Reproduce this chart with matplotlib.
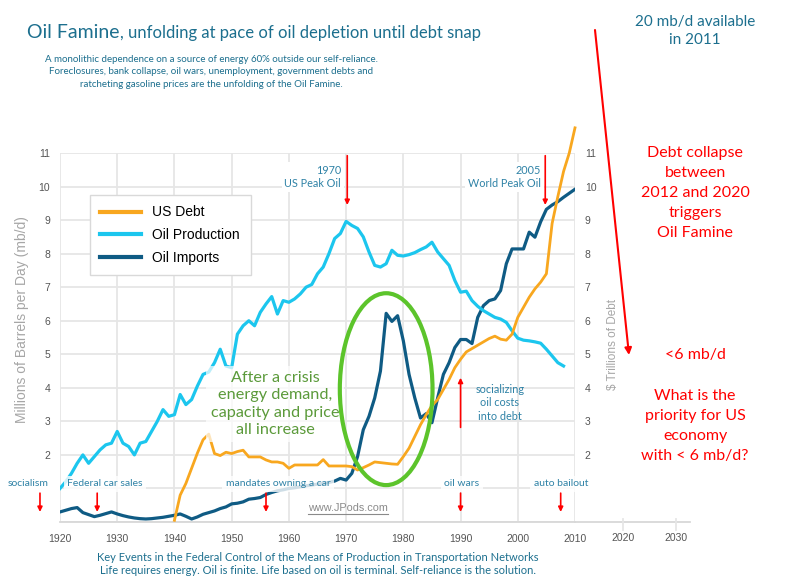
import matplotlib.pyplot as plt
from matplotlib.patches import Ellipse
from matplotlib.lines import Line2D

plt.rcParams['font.family'] = ['Liberation Sans', 'DejaVu Sans']

# data (mb/d and $ trillions)
prod_years = list(range(1920, 2009))
oil_production = [
    1.0, 1.2, 1.45, 1.75, 2.0, 1.75, 1.95, 2.15, 2.3, 2.35,
    2.7, 2.35, 2.25, 2.0, 2.35, 2.4, 2.7, 3.0, 3.35, 3.15,
    3.2, 3.8, 3.5, 3.65, 4.05, 4.4, 4.47, 4.75, 5.15, 4.65,
    4.6, 5.6, 5.85, 6.0, 5.85, 6.25, 6.5, 6.72, 6.2, 6.6,
    6.55, 6.65, 6.8, 7.0, 7.08, 7.4, 7.6, 8.0, 8.45, 8.6,
    8.96, 8.84, 8.75, 8.5, 8.05, 7.65, 7.6, 7.7, 8.1, 7.95,
    7.93, 7.97, 8.03, 8.12, 8.2, 8.34, 8.05, 7.85, 7.65, 7.2,
    6.85, 6.88, 6.6, 6.43, 6.3, 6.2, 6.1, 6.05, 5.95, 5.7,
    5.48, 5.42, 5.4, 5.37, 5.33, 5.15, 4.95, 4.75, 4.65,
]

import_years = list(range(1920, 2011))
oil_imports = [
    0.3, 0.35, 0.4, 0.43, 0.28, 0.22, 0.16, 0.2, 0.25, 0.3,
    0.24, 0.19, 0.15, 0.12, 0.1, 0.09, 0.1, 0.12, 0.14, 0.17,
    0.2, 0.24, 0.17, 0.09, 0.15, 0.23, 0.28, 0.33, 0.4, 0.45,
    0.54, 0.56, 0.6, 0.68, 0.7, 0.73, 0.82, 0.88, 0.93, 0.96,
    1.0, 1.02, 1.05, 1.08, 1.1, 1.13, 1.15, 1.18, 1.22, 1.3,
    1.25, 1.45, 1.95, 2.75, 3.15, 3.7, 4.5, 6.22, 5.98, 6.15,
    5.4, 4.4, 3.7, 3.1, 3.23, 2.96, 3.7, 4.4, 4.75, 5.2,
    5.44, 5.44, 5.32, 6.1, 6.45, 6.6, 6.65, 6.9, 7.7, 8.14,
    8.14, 8.14, 8.64, 8.49, 8.95, 9.32, 9.45, 9.55, 9.68, 9.8,
    9.92,
]

debt_years = list(range(1940, 2011))
us_debt = [
    0.05, 0.8, 1.15, 1.6, 2.05, 2.45, 2.62, 2.04, 1.98, 2.08,
    2.04, 2.1, 2.14, 1.94, 1.94, 1.94, 1.85, 1.79, 1.79, 1.75,
    1.6, 1.7, 1.7, 1.7, 1.7, 1.7, 1.86, 1.67, 1.67, 1.67,
    1.67, 1.65, 1.55, 1.62, 1.7, 1.79, 1.77, 1.75, 1.73, 1.72,
    1.95, 2.2, 2.55, 2.9, 3.2, 3.47, 3.65, 3.95, 4.25, 4.6,
    4.85, 5.07, 5.17, 5.27, 5.37, 5.47, 5.54, 5.45, 5.42, 5.6,
    6.1, 6.4, 6.7, 6.95, 7.15, 7.4, 8.9, 9.7, 10.45, 11.0,
    11.75,
]

decades = list(range(1920, 2011, 10))
extra_decades = ['2020', '2030']
y_ticks = list(range(0, 12))
y_labels = ['', ''] + [str(v) for v in range(2, 12)]

TEAL = '#1c6f8e'
LABEL = '#2f82a6'
RED = '#ff0000'

W, H = 786, 588
fig = plt.figure(figsize=(W / 100, H / 100), dpi=100)
ax = fig.add_axes([60 / W, 1 - 522 / H, (575 - 60) / W, (522 - 153) / H])


def put(x, y, s, **kw):
    # place text using pixel positions measured on the reference
    kw.setdefault('clip_on', False)
    return ax.text(x / W, 1 - y / H, s, transform=fig.transFigure, **kw)


def arrow_px(x0, y0, x1, y1, lw=1.2, ms=8):
    ax.annotate('', xy=(x1, H - y1), xytext=(x0, H - y0),
                xycoords='figure pixels', textcoords='figure pixels',
                arrowprops=dict(arrowstyle='-|>', color=RED, lw=lw,
                                mutation_scale=ms, shrinkA=0, shrinkB=0),
                annotation_clip=False, zorder=7)


def arrow_data(x, y0, y1):
    ax.annotate('', xy=(x, y1), xytext=(x, y0),
                arrowprops=dict(arrowstyle='-|>', color=RED, lw=1.2,
                                mutation_scale=7, shrinkA=0, shrinkB=0),
                annotation_clip=False, zorder=7)


# series
h_imp, = ax.plot(import_years, oil_imports, color='#0f5b84', lw=2.3, zorder=3)
h_prod, = ax.plot(prod_years, oil_production, color='#1cc6ee', lw=2.3, zorder=3)
h_debt, = ax.plot(debt_years, us_debt, color='#f8a71f', lw=2.0, zorder=4, clip_on=False)

ax.set_xlim(1920, 2010)
ax.set_ylim(0, 11)
ax.set_xticks(decades)
ax.set_yticks(y_ticks)
ax.set_yticklabels(y_labels)
ax.grid(True, color='#e6e6e6', lw=1.3, zorder=0)
ax.set_axisbelow(True)
for side in ['top', 'left', 'right']:
    ax.spines[side].set_visible(False)
ax.spines['bottom'].set_color('#d8d8d8')
ax.spines['bottom'].set_linewidth(1.3)
ax.tick_params(axis='both', length=0, labelsize=7.5, labelcolor='#555555')
ax.tick_params(axis='y', labelright=True, pad=7)
ax.tick_params(axis='x', pad=9)

# extra decades beyond the plotted range
fig.add_artist(Line2D([575 / W, 690 / W], [1 - 522 / H, 1 - 522 / H],
                      color='#d8d8d8', lw=1.3))
for xp, lab in zip([623, 676], extra_decades):
    fig.add_artist(Line2D([xp / W, xp / W], [1 - 519 / H, 1 - 530 / H],
                          color='#e6e6e6', lw=1.3))
    put(xp, 538, lab, fontsize=7.5, color='#555555', ha='center', va='center')

leg = ax.legend([h_debt, h_prod, h_imp], ['US Debt', 'Oil Production', 'Oil Imports'],
                loc='upper left', bbox_to_anchor=(30 / 515, (522 - 195) / 369),
                borderaxespad=0, fancybox=False, edgecolor='#d9d9d9', framealpha=1,
                fontsize=10, handlelength=2.95, handletextpad=0.8,
                labelspacing=0.62, borderpad=0.75)
leg.get_frame().set_linewidth(1.0)
for ln in leg.get_lines():
    ln.set_linewidth(3)
leg.set_zorder(6)

put(22, 320, 'Millions of Barrels per Day (mb/d)', rotation=90, fontsize=10,
    color='#a6a6a6', ha='center', va='center')
put(613, 345, '$ Trillions of Debt', rotation=90, fontsize=8.5,
    color='#a6a6a6', ha='center', va='center')

# ellipse around the 1970s import spike
ax.add_patch(Ellipse((1977.0, 3.96), 16.2, 5.72, fill=False,
                     edgecolor='#5cc42b', lw=3, zorder=6))

put(275, 404, 'After a crisis\nenergy demand,\ncapacity and price\nall increase',
    family='Lato', fontsize=11.7, color='#5b9a3a', ha='center', va='center',
    linespacing=1.32, zorder=5,
    bbox=dict(boxstyle='square,pad=0.3', fc='white', ec='none', alpha=0.7))

# peak oil markers
lab_box = dict(boxstyle='square,pad=0.25', fc='white', ec='none')
put(341, 177, '1970\nUS Peak Oil', family='Lato', fontsize=7.8, color=LABEL,
    ha='right', va='center', linespacing=1.2, zorder=5, bbox=lab_box)
arrow_data(1970.2, 10.92, 9.45)
put(541, 177, '2005\nWorld Peak Oil', family='Lato', fontsize=7.8, color=LABEL,
    ha='right', va='center', linespacing=1.2, zorder=5, bbox=lab_box)
arrow_data(2004.8, 10.92, 9.45)

put(500, 403, 'socializing\noil costs\ninto debt', family='Lato', fontsize=7.8,
    color=LABEL, ha='center', va='center', linespacing=1.25, zorder=5)
arrow_data(1990, 2.82, 4.3)

# key events along the bottom
events = ['socialism', 'Federal car sales', 'mandates owning a car', 'oil wars', 'auto bailout']
event_label_x = [28, 105, 278, 462, 561]
event_years = [1916.5, 1926.5, 1956.0, 1990.0, 2007.5]
ev_box = dict(boxstyle='square,pad=0.35', fc='white', ec='none', alpha=0.8)
for lab, xp, yr in zip(events, event_label_x, event_years):
    put(xp, 484, lab, family='Lato', fontsize=7.5, color=LABEL, ha='center',
        va='center', zorder=5, bbox=ev_box)
    arrow_data(yr, 0.86, 0.3)

url = put(348, 508, 'www.JPods.com', fontsize=7.8, color='#8a8a8a',
          ha='center', va='center', zorder=5)

# titles
t1 = put(27, 38, 'Oil Famine', family='Lato', fontsize=14, color=TEAL, va='baseline')
put(211, 72, 'A monolithic dependence on a source of energy 60% outside our self-reliance.\n'
    'Foreclosures, bank collapse, oil wars, unemployment, government debts and\n'
    'ratcheting gasoline prices are the unfolding of the Oil Famine.',
    family='Lato', fontsize=7, color=TEAL, ha='center', va='center', linespacing=1.45)
put(318, 564, 'Key Events in the Federal Control of the Means of Production in Transportation Networks\n'
    'Life requires energy. Oil is finite. Life based on oil is terminal. Self-reliance is the solution.',
    family='Lato', fontsize=8, color=TEAL, ha='center', va='center', linespacing=1.2)

# right-hand commentary
put(695, 31, '20 mb/d available\nin 2011', family='Lato', fontsize=11, color=TEAL,
    ha='center', va='center', linespacing=1.45)
arrow_px(595, 30, 629, 355, lw=1.5, ms=10)
put(695, 193, 'Debt collapse\nbetween\n2012 and 2020\ntriggers\nOil Famine', family='Lato',
    fontsize=11.5, color=RED, ha='center', va='center', linespacing=1.55)
put(695, 355, '<6 mb/d', family='Lato', fontsize=11.5, color=RED, ha='center', va='center')
put(695, 426, 'What is the\npriority for US\neconomy\nwith < 6 mb/d?', family='Lato',
    fontsize=11.5, color=RED, ha='center', va='center', linespacing=1.55)

# second part of the title and url underline need text extents
fig.canvas.draw()
r = fig.canvas.get_renderer()
bb = t1.get_window_extent(r)
ax.text(bb.x1 / W, 1 - 38 / H, ', unfolding at pace of oil depletion until debt snap',
        transform=fig.transFigure, family='Lato', fontsize=12, color=TEAL, va='baseline')
ub = url.get_window_extent(r)
fig.add_artist(Line2D([ub.x0 / W, ub.x1 / W], [(ub.y0 - 1) / H, (ub.y0 - 1) / H],
                      color='#8a8a8a', lw=0.8))

fig.savefig('out.png', dpi=100)
